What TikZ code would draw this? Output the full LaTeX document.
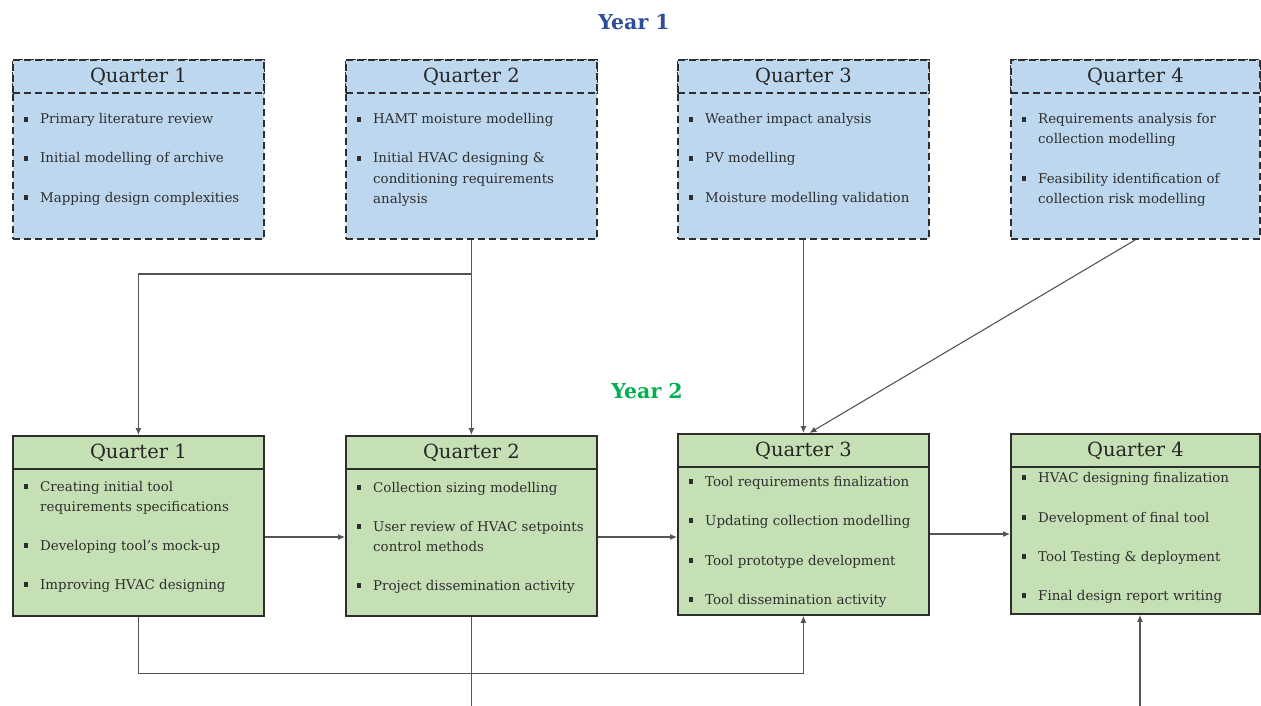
\documentclass[tikz,border=0pt]{standalone}
\usepackage{fontspec}
\setmainfont{DejaVu Serif}
\usetikzlibrary{arrows.meta,calc}
\definecolor{bluefill}{HTML}{BDD7EE}
\definecolor{greenfill}{HTML}{C5E0B4}
\definecolor{yearblue}{HTML}{2E4C9C}
\definecolor{yeargreen}{HTML}{00B050}
\definecolor{txtc}{HTML}{2E2E2E}
\definecolor{edgec}{HTML}{2E2E2E}
\definecolor{linec}{HTML}{555555}
\newcommand\hdrfont{\fontsize{19.5}{22}\selectfont}
\newcommand\bodyfont{\fontsize{13.4}{16}\selectfont}
\newcounter{nn}
\newcommand\bul[3]{\stepcounter{nn}%
  \node[bulmark] (M\thenn) at ({#1+14},{#2-4.5}) {};
  \node[itemtxt] (L\thenn) at ({#1+28},#2) {#3};}
\newcommand\cont[3]{\stepcounter{nn}%
  \node[itemtxt] (L\thenn) at ({#1+28},#2) {#3};}
\tikzset{
  qbox/.style={draw=edgec, line width=1.8pt, minimum width=251pt, inner sep=0pt, anchor=north west},
  yone/.style={fill=bluefill, dash pattern=on 7pt off 4pt},
  ytwo/.style={fill=greenfill},
  hdr/.style={minimum height=33pt, font=\hdrfont, text=black!85},
  itemtxt/.style={anchor=base west, inner sep=0pt, font=\bodyfont, text=txtc},
  bulmark/.style={fill=txtc, minimum size=4.2pt, inner sep=0pt},
  conn/.style={draw=linec, line width=1.1pt},
  arr/.style={conn, -{Latex[length=7pt,width=6pt]}},
  yeartitle/.style={font=\fontsize{20.5}{24}\selectfont\bfseries, inner sep=0pt}
}
\begin{document}
\begin{tikzpicture}[x=1pt,y=-1pt]
\useasboundingbox (0,0) rectangle (1261,706);
\fill[white] (0,0) rectangle (1261,706);

\node[yeartitle, text=yearblue] (Y1) at (634,22) {Year 1};
\node[yeartitle, text=yeargreen] (Y2) at (647,391) {Year 2};

% ---------- Year 1 boxes ----------
\node[qbox,yone,minimum height=179pt] (a1) at (12,59) {};
\node[qbox,yone,hdr] (ah1) at (12,59) {Quarter 1};
\node[qbox,yone,minimum height=179pt] (a2) at (345,59) {};
\node[qbox,yone,hdr] (ah2) at (345,59) {Quarter 2};
\node[qbox,yone,minimum height=179pt] (a3) at (677,59) {};
\node[qbox,yone,hdr] (ah3) at (677,59) {Quarter 3};
\node[qbox,yone,minimum height=179pt,minimum width=249pt] (a4) at (1010,59) {};
\node[qbox,yone,hdr,minimum width=249pt] (ah4) at (1010,59) {Quarter 4};

\bul{12}{124}{Primary literature review}
\bul{12}{163}{Initial modelling of archive}
\bul{12}{202}{Mapping design complexities}

\bul{345}{124}{HAMT moisture modelling}
\bul{345}{163}{Initial HVAC designing \&}
\cont{345}{183}{conditioning requirements}
\cont{345}{203}{analysis}

\bul{677}{124}{Weather impact analysis}
\bul{677}{163}{PV modelling}
\bul{677}{202}{Moisture modelling validation}

\bul{1010}{124}{Requirements analysis for}
\cont{1010}{144}{collection modelling}
\bul{1010}{183}{Feasibility identification of}
\cont{1010}{203}{collection risk modelling}

% ---------- Year 2 boxes ----------
\node[qbox,ytwo,minimum height=180pt] (b1) at (12,435) {};
\node[qbox,ytwo,hdr] (bh1) at (12,435) {Quarter 1};
\node[qbox,ytwo,minimum height=180pt] (b2) at (345,435) {};
\node[qbox,ytwo,hdr] (bh2) at (345,435) {Quarter 2};
\node[qbox,ytwo,minimum height=181pt] (b3) at (677,433) {};
\node[qbox,ytwo,hdr] (bh3) at (677,433) {Quarter 3};
\node[qbox,ytwo,minimum height=180pt,minimum width=249pt] (b4) at (1010,433) {};
\node[qbox,ytwo,hdr,minimum width=249pt] (bh4) at (1010,433) {Quarter 4};

\bul{12}{491}{Creating initial tool}
\cont{12}{511}{requirements specifications}
\bul{12}{550}{Developing tool's mock-up}
\bul{12}{589}{Improving HVAC designing}

\bul{345}{492}{Collection sizing modelling}
\bul{345}{531}{User review of HVAC setpoints}
\cont{345}{551}{control methods}
\bul{345}{590}{Project dissemination activity}

\bul{677}{486}{Tool requirements finalization}
\bul{677}{525}{Updating collection modelling}
\bul{677}{565}{Tool prototype development}
\bul{677}{604}{Tool dissemination activity}

\bul{1010}{482}{HVAC designing finalization}
\bul{1010}{522}{Development of final tool}
\bul{1010}{561}{Tool Testing \& deployment}
\bul{1010}{600}{Final design report writing}

% ---------- connectors ----------
\coordinate (j) at (a2.south |- 0,274);
\draw[conn] (a2.south) -- (j);
\draw[arr] (j) -| (b1.north);
\draw[arr] (j) -- (b2.north);
\draw[arr] (a3.south) -- (b3.north);
\draw[arr] (a4.south) -- ($(b3.north)+(6,0)$);

\draw[arr] (b1.east |- 0,537) -- (b2.west |- 0,537);
\draw[arr] (b2.east |- 0,537) -- (b3.west |- 0,537);
\draw[arr] (b3.east |- 0,534) -- (b4.west |- 0,534);

\draw[arr] (b1.south) -- ++(0,57) -| (b3.south);
\coordinate (e2) at (b2.south |- 0,706);
\draw[conn] (b2.south) -- (e2);
\coordinate (e4) at (1140,706);
\draw[arr] (e4) -- (e4 |- b4.south);
\end{tikzpicture}
\end{document}
